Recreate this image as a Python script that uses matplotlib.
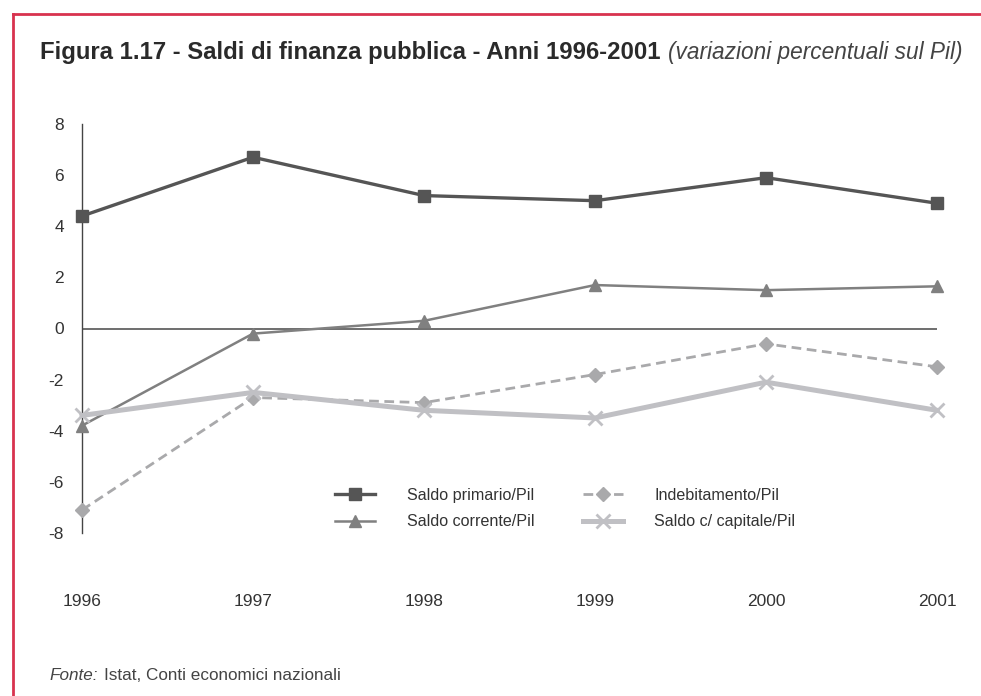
import matplotlib
matplotlib.use('Agg')
import matplotlib.pyplot as plt
from matplotlib.lines import Line2D
import numpy as np

plt.rcParams['font.family'] = ['Liberation Sans', 'DejaVu Sans']
plt.rcParams['axes.unicode_minus'] = False

anni = ['1996', '1997', '1998', '1999', '2000', '2001']
saldo_primario = [4.4, 6.7, 5.2, 5.0, 5.9, 4.9]
saldo_corrente = [-3.8, -0.2, 0.3, 1.7, 1.5, 1.65]
indebitamento = [-7.1, -2.7, -2.9, -1.8, -0.6, -1.5]
saldo_capitale = [-3.4, -2.5, -3.2, -3.5, -2.1, -3.2]

x = np.arange(len(anni))

fig = plt.figure(figsize=(9.81, 6.96), dpi=100)
W, H = 981, 696
ax = fig.add_axes([82 / W, 1 - 533 / H, (937 - 82) / W, (533 - 124) / H])

ax.plot(x, saldo_primario, color='#555555', lw=2.4, marker='s', ms=8,
        label='Saldo primario/Pil', clip_on=False, zorder=5)
ax.plot(x, saldo_corrente, color='#808080', lw=1.8, marker='^', ms=8,
        label='Saldo corrente/Pil', clip_on=False, zorder=4)
ax.plot(x, indebitamento, color='#a9a9ab', lw=2.0, ls=(0, (3.5, 2)), marker='D', ms=7,
        label='Indebitamento/Pil', clip_on=False, zorder=3)
ax.plot(x, saldo_capitale, color='#c0c0c4', lw=3.6, marker='x', ms=10, mew=2,
        label='Saldo c/ capitale/Pil', clip_on=False, zorder=6)

ax.axhline(0, color='#555555', lw=1.2, zorder=1)

ax.set_xlim(0, len(anni) - 1)
ax.set_ylim(-8, 8)
ax.set_yticks(np.arange(-8, 9, 2))
ax.set_xticks(x)
ax.set_xticklabels(anni)

for side in ['top', 'right', 'bottom']:
    ax.spines[side].set_visible(False)
ax.spines['left'].set_color('#444444')
ax.spines['left'].set_linewidth(1.0)
ax.tick_params(axis='y', length=0, pad=13, labelsize=12.5, labelcolor='#333333')
ax.tick_params(axis='x', length=0, pad=44, labelsize=12.5, labelcolor='#333333')

handles, labels = ax.get_legend_handles_labels()
fig.legend(handles, labels, ncol=2, frameon=False, loc='upper left',
           bbox_to_anchor=(327 / W, 1 - 480 / H), borderpad=0,
           handlelength=2.5, handletextpad=1.95, columnspacing=3.0,
           labelspacing=0.7, fontsize=11.6, labelcolor='#333333')

# titolo: parte in grassetto + parte in corsivo
fig.text(40 / W, 1 - 53 / H, 'Figura 1.17 - Saldi di finanza pubblica - Anni 1996-2001',
         fontsize=17.2, fontweight='bold', color='#2a2a2a', va='center')
fig.text(668 / W, 1 - 53 / H, '(variazioni percentuali sul Pil)',
         fontsize=16.3, fontstyle='italic', color='#444444', va='center')

fig.text(49 / W, 1 - 676 / H, 'Fonte:', fontsize=12.3, fontstyle='italic',
         color='#444444', va='center')
fig.text(104 / W, 1 - 676 / H, 'Istat, Conti economici nazionali', fontsize=12.3,
         color='#444444', va='center')

# cornice rossa in alto e a sinistra
red = '#d8324e'
fig.add_artist(Line2D([12.5 / W, 1], [1 - 13.5 / H, 1 - 13.5 / H], color=red, lw=2,
                      transform=fig.transFigure))
fig.add_artist(Line2D([12.5 / W, 12.5 / W], [0, 1 - 13.5 / H], color=red, lw=2,
                      transform=fig.transFigure))

fig.savefig('out.png', dpi=100)
